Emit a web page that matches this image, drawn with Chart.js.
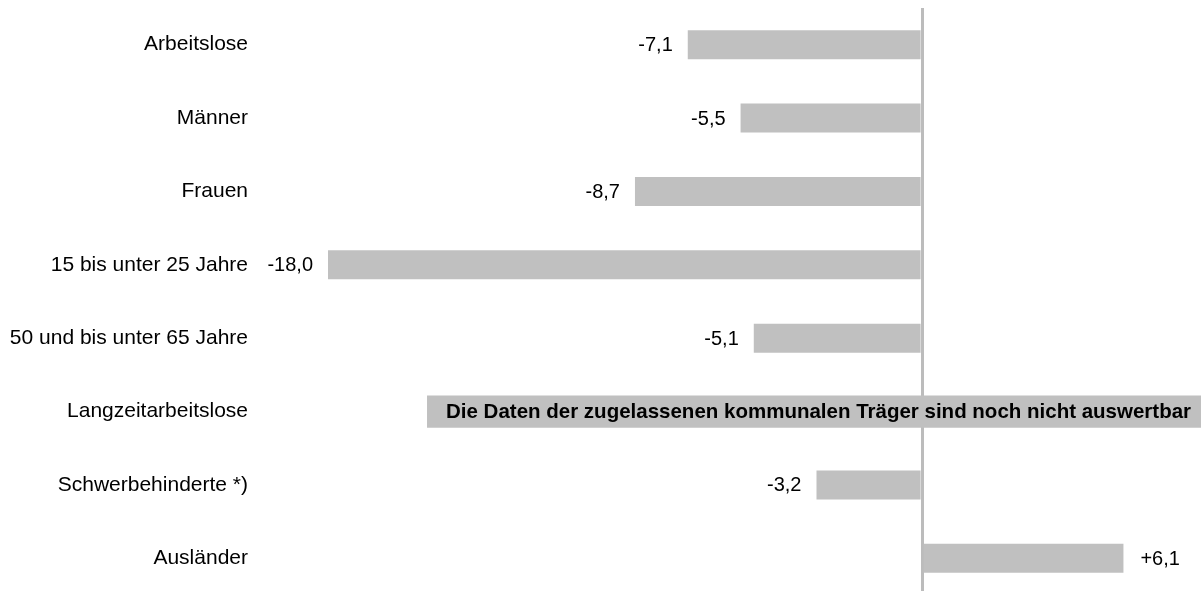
<!DOCTYPE html>
<html>
<head>
<meta charset="utf-8">
<script src="https://cdn.jsdelivr.net/npm/chart.js@4/dist/chart.umd.min.js"></script>
<style>
  html, body { margin: 0; padding: 0; background: #fff; overflow: hidden; }
</style>
</head>
<body>
<canvas id="chart" width="1201" height="595"></canvas>
<script>
// data (change in %)
const categories = [
  "Arbeitslose",
  "Männer",
  "Frauen",
  "15 bis unter 25 Jahre",
  "50 und bis unter 65 Jahre",
  "Langzeitarbeitslose",
  "Schwerbehinderte *)",
  "Ausländer"
];
const changes = [-7.1, -5.5, -8.7, -18.0, -5.1, null, -3.2, 6.1];
// grey note box in the Langzeitarbeitslose row
const noteBar = [null, null, null, null, null, [-15, 8.45], null, null];
const noteText = "Die Daten der zugelassenen kommunalen Träger sind noch nicht auswertbar";
const xMin = -20;
const xMax = 8.45;

const barGrey = "#c0c0c0";
const fontFamily = '"Liberation Sans", Arial, sans-serif';

Chart.defaults.font.family = fontFamily;
Chart.defaults.color = "#000";

// draws value labels next to the bars and the text in the note box
const labelPlugin = {
  id: "valueLabels",
  afterDatasetsDraw(chart) {
    const ctx = chart.ctx;
    const xs = chart.scales.x;
    ctx.save();
    ctx.fillStyle = "#000";
    ctx.textBaseline = "middle";
    ctx.font = "20px " + fontFamily;
    chart.getDatasetMeta(0).data.forEach((bar, i) => {
      const v = changes[i];
      if (v == null) return;
      const txt = (v > 0 ? "+" : "") + v.toFixed(1).replace(".", ",");
      if (v < 0) {
        ctx.textAlign = "right";
        ctx.fillText(txt, bar.x - 15, bar.y + 1);
      } else {
        ctx.textAlign = "left";
        ctx.fillText(txt, bar.x + 17, bar.y + 1);
      }
    });
    ctx.font = "bold 20.5px " + fontFamily;
    ctx.textAlign = "left";
    const noteMeta = chart.getDatasetMeta(1);
    noteBar.forEach((r, i) => {
      if (r == null) return;
      const y = noteMeta.data[i] ? noteMeta.data[i].y : chart.scales.y.getPixelForValue(i);
      ctx.fillText(noteText, xs.getPixelForValue(r[0]) + 19, y + 1);
    });
    ctx.restore();
  }
};

new Chart(document.getElementById("chart"), {
  type: "bar",
  data: {
    labels: categories,
    datasets: [
      {
        data: changes,
        backgroundColor: barGrey,
        borderWidth: 0,
        barPercentage: 0.395,
        categoryPercentage: 1,
        grouped: false
      },
      {
        data: noteBar,
        backgroundColor: barGrey,
        borderWidth: 0,
        barPercentage: 0.44,
        categoryPercentage: 1,
        grouped: false
      }
    ]
  },
  options: {
    indexAxis: "y",
    responsive: false,
    animation: false,
    layout: { padding: { top: 8, right: 0, bottom: 0, left: 0 } },
    plugins: {
      legend: { display: false },
      tooltip: { enabled: false }
    },
    scales: {
      x: {
        min: xMin,
        max: xMax,
        ticks: { display: false, stepSize: 5 },
        border: { display: false },
        grid: {
          drawTicks: false,
          lineWidth: 3,
          color: (c) => (c.tick && c.tick.value === 0 ? "#bcbcbc" : "rgba(0,0,0,0)")
        },
        afterFit(scale) {
          scale.height = 0;
          scale.paddingLeft = 0;
          scale.paddingRight = 0;
        }
      },
      y: {
        grid: { display: false },
        border: { display: false },
        ticks: {
          color: "#000",
          padding: 6,
          font: { size: 21 }
        },
        afterFit(scale) {
          scale.width = 262;
          scale.paddingTop = 0;
          scale.paddingBottom = 0;
        }
      }
    }
  },
  plugins: [labelPlugin]
});
</script>
</body>
</html>
